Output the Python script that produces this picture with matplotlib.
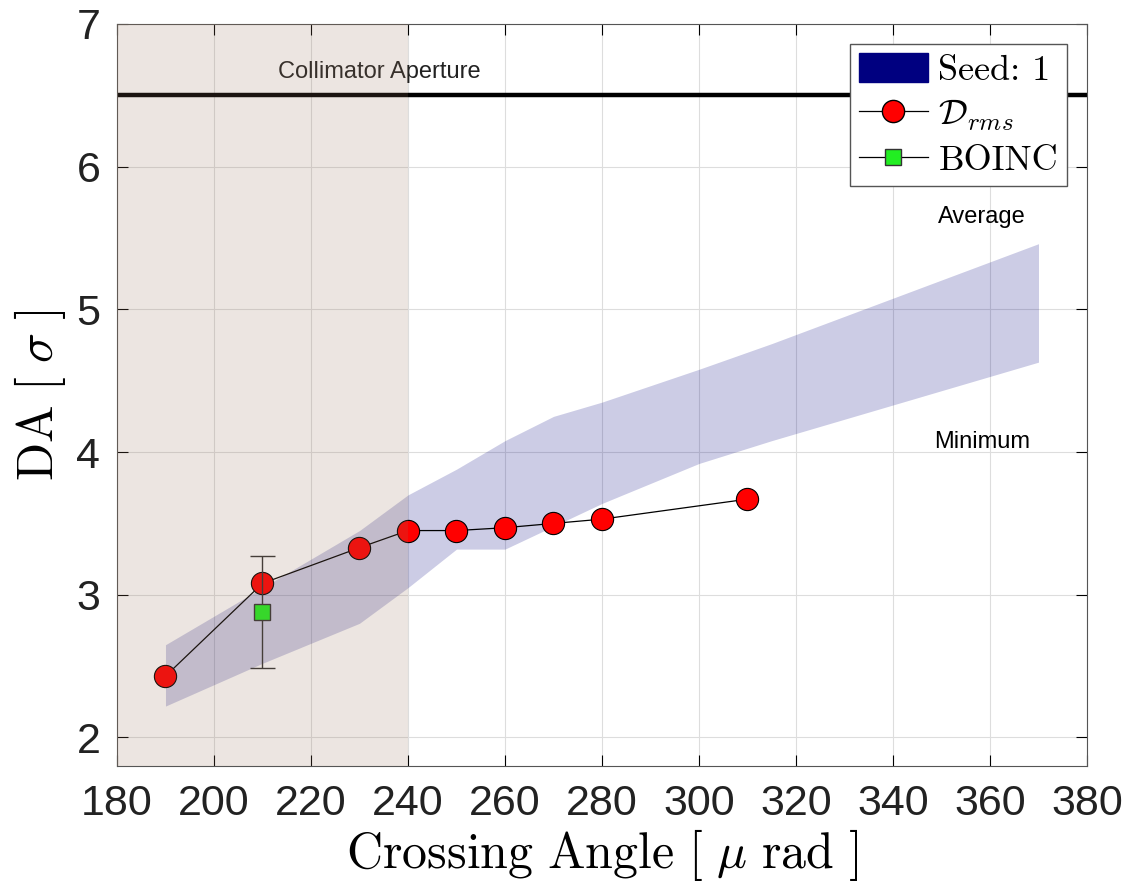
import matplotlib.pyplot as plt
import matplotlib.patches as mpatches
from matplotlib.lines import Line2D
import numpy as np

plt.rcParams['mathtext.fontset'] = 'cm'
plt.rcParams['font.family'] = ['Liberation Sans', 'DejaVu Sans']

# band (seed 1): minimum / average envelope
band_x = [190, 210, 230, 240, 250, 255, 260, 270, 280, 300, 315, 370]
band_lo = [2.22, 2.52, 2.80, 3.05, 3.32, 3.32, 3.32, 3.48, 3.64, 3.92, 4.08, 4.63]
band_hi = [2.65, 3.05, 3.45, 3.70, 3.88, 3.98, 4.08, 4.25, 4.35, 4.58, 4.76, 5.46]

# D_rms points
x_rms = [190, 210, 230, 240, 250, 260, 270, 280, 310]
y_rms = [2.43, 3.08, 3.33, 3.45, 3.45, 3.47, 3.50, 3.53, 3.67]

# BOINC
x_boinc = [210]
y_boinc = [2.88]
err_boinc = [0.39]

aperture = 6.5

fig = plt.figure(figsize=(11.27, 8.86), dpi=100)
ax = fig.add_axes([0.1038, 0.1354, 0.8607, 0.8376])

ax.fill_between(band_x, band_lo, band_hi, color='navy', alpha=0.2, lw=0, zorder=1)
ax.axhline(aperture, color='black', lw=3.2, zorder=2)
ax.text(234, 6.66, 'Collimator Aperture', ha='center', va='center', fontsize=17, color='#222222')
ax.text(358.4, 5.65, 'Average', ha='center', va='center', fontsize=17)
ax.text(358.4, 4.07, 'Minimum', ha='center', va='center', fontsize=17)

ax.plot(x_rms, y_rms, '-o', color='black', lw=0.9, mfc='red', mec='black', mew=0.8, ms=16, zorder=4)
ax.errorbar(x_boinc, y_boinc, yerr=err_boinc, fmt='s', color='#333333', ecolor='#333333', elinewidth=1,
            capsize=9, mfc='#22ee22', mec='#333333', ms=11, zorder=5)

ax.axvspan(180, 240, color=(0.6, 0.45, 0.35), alpha=0.18, lw=0, zorder=6)

ax.set_xlim(180, 380)
ax.set_ylim(1.8, 7)
ax.set_xticks(np.arange(180, 381, 20))
ax.set_yticks([2, 3, 4, 5, 6, 7])
ax.grid(True, color='#dddddd', lw=0.8)
ax.set_axisbelow(True)
ax.tick_params(direction='in', top=True, right=True, labelsize=31, length=8, width=0.8,
               labelcolor='#222222')
ax.tick_params(axis='x', pad=13)
ax.tick_params(axis='y', pad=12)
for s in ax.spines.values():
    s.set_color('#555555')
    s.set_linewidth(0.8)

ax.set_xlabel(r'$\mathrm{Crossing\ Angle\ [\ \mu\ rad\ ]}$', fontsize=36, labelpad=2)
ax.set_ylabel(r'$\mathrm{DA\ [\ \sigma\ ]}$', fontsize=36, labelpad=6)

handles = [
    mpatches.Patch(color='navy'),
    Line2D([], [], color='black', lw=0.9, marker='o', mfc='red', mec='black', ms=16),
    Line2D([], [], color='black', lw=0.9, marker='s', mfc='#22ee22', mec='#333333', ms=11),
]
labels = ['Seed: 1', r'$\mathcal{D}_{rms}$', 'BOINC']
leg = ax.legend(handles, labels, loc='upper right', prop={'family': 'cmr10', 'size': 26},
                fancybox=False, framealpha=1, edgecolor='#555555', handlelength=1.9,
                handleheight=0.85, borderaxespad=0.55, labelspacing=0.3,
                handletextpad=0.3, borderpad=0.25)
leg.set_zorder(10)

fig.savefig('out.png', dpi=100)
